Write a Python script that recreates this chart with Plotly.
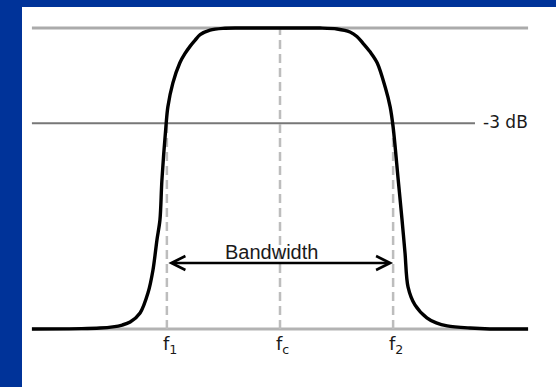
import plotly.graph_objects as go

# Filter response (normalised magnitude)
freq = [0, 10.0, 13.7, 16.3, 18.2, 19.8, 21.8, 23.4, 24.4, 25.2, 25.8, 26.2, 27.0, 27.4,
        28.4, 29.8, 30.8, 31.9, 32.9, 33.9, 35.9, 38.5, 41.9, 50.0, 58.1, 61.5, 64.1,
        65.5, 66.7, 68.2, 69.6, 71.2, 72.2, 72.8, 73.8, 74.6, 75.2, 75.8, 77.2, 79.6,
        81.5, 83.7, 88.3, 92.3, 100]
gain = [0, 0.001, 0.003, 0.007, 0.013, 0.023, 0.053, 0.120, 0.196, 0.296, 0.362, 0.495,
        0.671, 0.738, 0.817, 0.884, 0.914, 0.940, 0.960, 0.978, 0.993, 0.999, 1.0, 1.0,
        1.0, 0.997, 0.987, 0.972, 0.950, 0.920, 0.884, 0.804, 0.738, 0.671, 0.500, 0.362,
        0.252, 0.140, 0.080, 0.037, 0.020, 0.010, 0.003, 0, 0]

level_3db = 0.684
f_marks = [27.2, 50.0, 72.8]
f_labels = ["f<sub>1</sub>", "f<sub>c</sub>", "f<sub>2</sub>"]
f_tops = [level_3db, 1.0, level_3db]
bw_level = 0.219
db_label = "-3 dB"
bw_label = "Bandwidth"

fig = go.Figure()

shapes = []
# white slide panel
shapes.append(dict(type="rect", xref="paper", yref="paper", x0=0, x1=1.04, y0=-0.2, y1=1.018,
                   fillcolor="white", line=dict(width=0), layer="below"))
# reference lines
shapes.append(dict(type="line", x0=0, x1=100, y0=1, y1=1, line=dict(color="#ababab", width=3), layer="below"))
shapes.append(dict(type="line", x0=0, x1=100, y0=0, y1=0, line=dict(color="#b3b3b3", width=3), layer="below"))
shapes.append(dict(type="line", x0=0, x1=89.3, y0=level_3db, y1=level_3db, line=dict(color="#777777", width=2), layer="below"))
for fx, top in zip(f_marks, f_tops):
    shapes.append(dict(type="line", x0=fx, x1=fx, y0=0, y1=top,
                       line=dict(color="#bdbdbd", width=2.5, dash="9px,5px"), layer="below"))

fig.add_trace(go.Scatter(x=freq, y=gain, mode="lines",
                         line=dict(color="black", width=3.4, shape="spline", smoothing=0.9),
                         hoverinfo="skip", showlegend=False, cliponaxis=False))

annotations = []
for fx, lab in zip(f_marks, f_labels):
    annotations.append(dict(x=fx, y=0, text=lab, showarrow=False, xanchor="left", yanchor="top",
                            xshift=-6, yshift=-2,
                            font=dict(family="DejaVu Sans", size=18, color="#1a1a1a")))
annotations.append(dict(x=90.5, y=level_3db, text=db_label, showarrow=False, xanchor="left",
                        yanchor="middle", yshift=1,
                        font=dict(family="DejaVu Sans", size=17, color="#1a1a1a")))
annotations.append(dict(x=48.3, y=bw_level, text=bw_label, showarrow=False, xanchor="center",
                        yanchor="bottom", yshift=-2,
                        font=dict(family="Liberation Sans", size=20, color="#1a1a1a")))
annotations.append(dict(x=f_marks[2], y=bw_level, ax=f_marks[0], ay=bw_level, axref="x", ayref="y",
                        xref="x", yref="y", text="", showarrow=True, arrowside="end+start",
                        arrowhead=5, startarrowhead=5, arrowsize=1.1, startarrowsize=1.1,
                        arrowwidth=2.5, arrowcolor="black"))

fig.update_layout(
    width=556, height=387,
    margin=dict(l=22, r=18, t=13, b=43),
    paper_bgcolor="#003399",
    plot_bgcolor="white",
    xaxis=dict(range=[-2, 102], visible=False, fixedrange=True),
    yaxis=dict(range=[-0.05, 1.05], visible=False, fixedrange=True),
    shapes=shapes,
    annotations=annotations,
    showlegend=False,
)

fig.write_html("out.html", config={"displayModeBar": False},
               post_script="document.body.style.margin='0';document.body.style.overflow='hidden';")
